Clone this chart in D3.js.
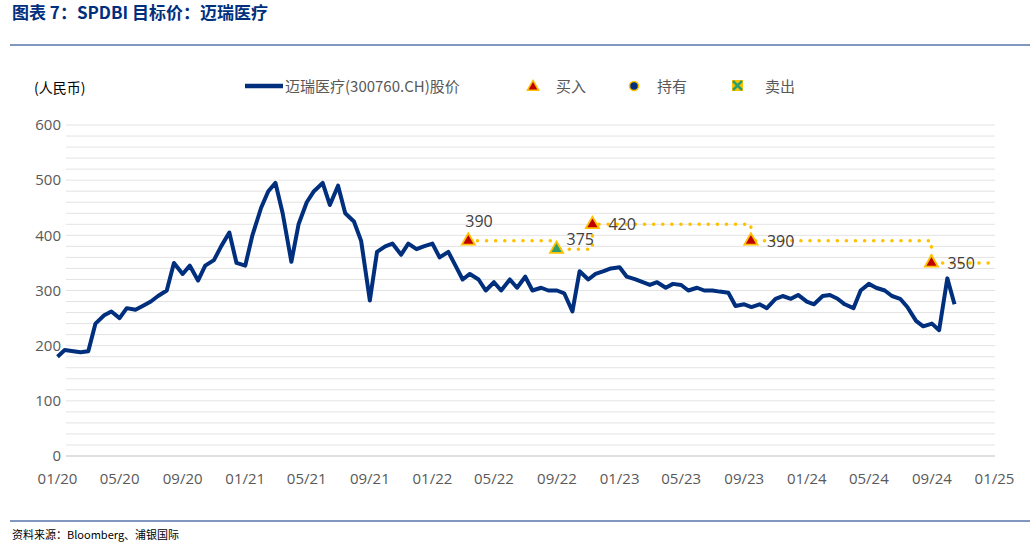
<!DOCTYPE html>
<html><head><meta charset="utf-8">
<script src="https://cdn.jsdelivr.net/npm/d3@7"></script>
<style>
body{margin:0;background:#fff;font-family:"Noto Sans CJK SC","Open Sans",sans-serif;}
</style></head><body>
<svg id="c" width="1032" height="545"></svg>
<script>
// price, semi-monthly readings (2nd and 16th of each month), one row per year
const priceValues = [
  180,192, 190,188, 190,240, 255,262, 250,268, 265,272, 280,290, 300,350, 330,345, 318,345, 355,380, 405,350,
  345,400, 450,480, 495,440, 352,420, 460,480, 495,455, 490,440, 425,390, 282,370, 380,385, 365,385, 375,380,
  385,360, 370,345, 320,330, 320,300, 315,300, 320,305, 325,300, 305,300, 300,295, 262,335, 320,330, 335,340,
  342,325, 320,315, 310,315, 305,312, 310,300, 305,300, 300,298, 296,272, 275,270, 275,268, 285,290, 285,292,
  280,275, 290,292, 285,275, 268,300, 312,305, 300,290, 285,270, 245,235, 240,228, 322,275
];
const priceDates = priceValues.map((v, i) => new Date(2020 + Math.floor(i / 24), Math.floor(i / 2) % 12, i % 2 ? 16 : 2));
const priceSeries = priceDates.map((d, i) => ({d, v: priceValues[i]}));

const targetDates = [new Date(2022,2,13), new Date(2022,8,1), new Date(2022,10,10), new Date(2023,8,15), new Date(2024,8,1), new Date(2025,0,1)];
const targetValues = [390, 375, 420, 390, 350, 350];
const targetTypes = ["buy", "sell", "buy", "buy", "buy", null];

const xTicks = [];
for (let y = 2020; y <= 2025; y++) for (const m of [0,4,8]) if (!(y===2025 && m>0)) xTicks.push(new Date(y, m, 1));
const yTicks = [0,100,200,300,400,500,600];

const svg = d3.select("#c");
const navy = "#002f7e";
svg.append("text").attr("x",12).attr("y",19).attr("fill",navy).attr("font-size",17).attr("font-weight","bold")
  .text("图表 7：SPDBI 目标价：迈瑞医疗");
svg.append("line").attr("x1",10).attr("x2",1030).attr("y1",45).attr("y2",45).attr("stroke",navy).attr("stroke-width",1);
svg.append("line").attr("x1",10).attr("x2",1030).attr("y1",521).attr("y2",521).attr("stroke",navy).attr("stroke-width",1);
svg.append("text").attr("x",12).attr("y",539).attr("font-size",11).attr("fill","#000").text("资料来源：Bloomberg、浦银国际");

const x = d3.scaleTime().domain([new Date(2020,0,1), new Date(2025,0,1)]).range([57, 994]);
const y = d3.scaleLinear().domain([0,600]).range([456,125]);

// gridlines every 20
svg.append("g").selectAll("line").data(d3.range(20,601,20)).join("line")
  .attr("x1",66).attr("x2",995).attr("y1",d=>y(d)).attr("y2",d=>y(d))
  .attr("stroke","#e3e3e3").attr("stroke-width",1);
svg.append("line").attr("x1",66).attr("x2",995).attr("y1",y(0)).attr("y2",y(0)).attr("stroke","#bfbfbf");

const tf = d3.timeFormat("%m/%y");
const gx = svg.append("g").attr("transform","translate(0,456)")
  .call(d3.axisBottom(x).tickValues(xTicks).tickFormat(tf).tickSize(0).tickPadding(17));
gx.select(".domain").remove();
const gy = svg.append("g").attr("transform","translate(61,0)")
  .call(d3.axisLeft(y).tickValues(yTicks).tickSize(0).tickPadding(0));
gy.select(".domain").remove();
svg.selectAll(".tick text").attr("font-size",15).attr("fill","#595959").attr("font-family","Open Sans, sans-serif");

// target step line
const tgt = targetDates.map((d,i)=>({d, v: targetValues[i], t: targetTypes[i]}));
svg.append("path").datum(tgt).attr("fill","none").attr("stroke","#ffc000").attr("stroke-width",3.5)
  .attr("stroke-dasharray","0.1 9").attr("stroke-linecap","round")
  .attr("d", d3.line().x(d=>x(d.d)).y(d=>y(d.v)).curve(d3.curveStepAfter));

// price line
svg.append("path").datum(priceSeries).attr("fill","none").attr("stroke",navy).attr("stroke-width",4)
  .attr("stroke-linejoin","round")
  .attr("d", d3.line().x(d=>x(d.d)).y(d=>y(d.v)));

// markers
const tri = d3.symbol().type(d3.symbolTriangle).size(75);
const mk = tgt.filter(d=>d.t);
svg.append("g").selectAll("path").data(mk).join("path")
  .attr("transform", d=>`translate(${x(d.d)},${y(d.v)})`).attr("d", tri)
  .attr("fill", d=>d.t==="buy" ? "#c00000" : "#2e9e6a").attr("stroke","#ffc000").attr("stroke-width",1.8);
const labOff = [[-3,-14],[10,-4],[16,6],[16,6],[16,6]];
svg.append("g").selectAll("text").data(mk).join("text")
  .attr("x",(d,i)=>x(d.d)+labOff[i][0]).attr("y",(d,i)=>y(d.v)+labOff[i][1])
  .attr("font-size",16).attr("fill","#404040").attr("font-family","Open Sans, sans-serif").text(d=>d.v);

// legend
svg.append("text").attr("x",34).attr("y",93).attr("font-size",14).attr("fill","#000").text("(人民币)");
const lg = svg.append("g").attr("font-size",15).attr("fill","#595959");
lg.append("line").attr("x1",245).attr("x2",283).attr("y1",86).attr("y2",86).attr("stroke",navy).attr("stroke-width",4.5);
lg.append("text").attr("x",285).attr("y",92).text("迈瑞医疗(300760.CH)股价");
lg.append("path").attr("transform","translate(533,87)").attr("d",d3.symbol().type(d3.symbolTriangle).size(55)).attr("fill","#c00000").attr("stroke","#ffc000").attr("stroke-width",1.5);
lg.append("text").attr("x",556).attr("y",92).text("买入");
lg.append("circle").attr("cx",634).attr("cy",86).attr("r",4.5).attr("fill",navy).attr("stroke","#ffc000").attr("stroke-width",1.5);
lg.append("text").attr("x",657).attr("y",92).text("持有");
lg.append("rect").attr("x",732).attr("y",80).attr("width",11).attr("height",11).attr("fill","#ffc000");
lg.append("path").attr("d","M733,81L742,90M742,81L733,90").attr("stroke","#2e9e6a").attr("stroke-width",2.5);
lg.append("text").attr("x",765).attr("y",92).text("卖出");
</script></body></html>
